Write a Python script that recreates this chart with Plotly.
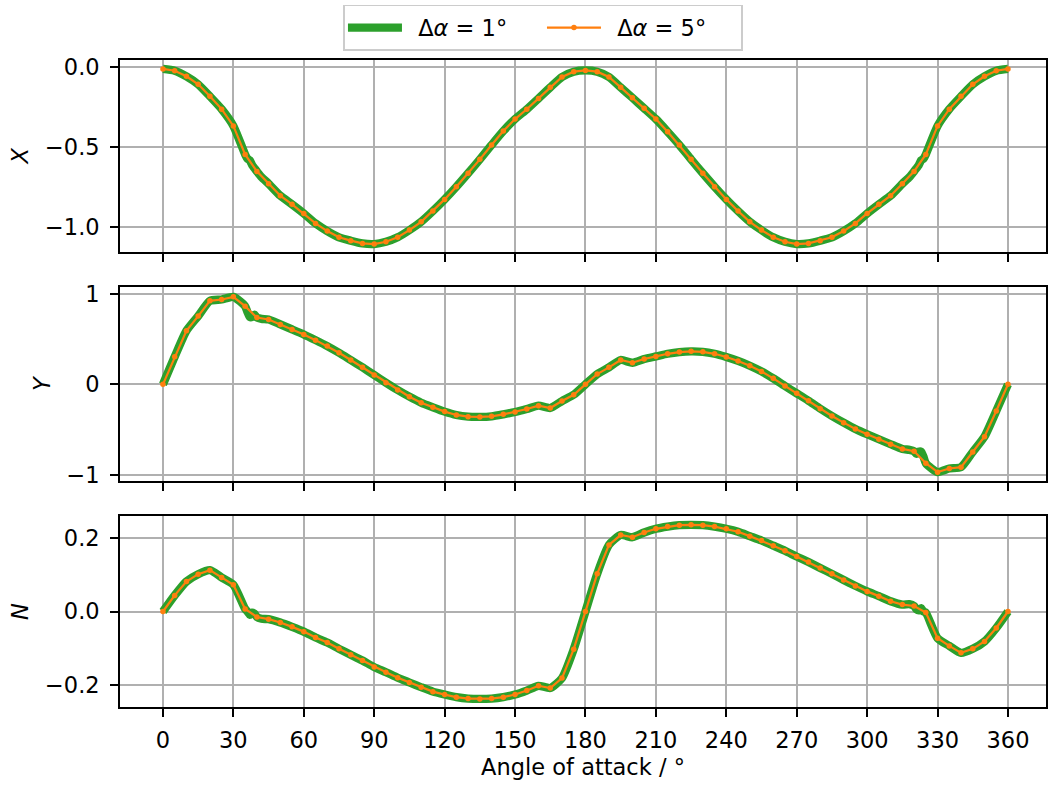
import plotly.graph_objects as go
from plotly.subplots import make_subplots

# Coefficients sampled every 5 degrees of angle of attack
alpha_coarse = list(range(0, 361, 5))

X_coarse = [
    -0.014, -0.025, -0.060, -0.110, -0.185, -0.265, -0.370, -0.548, -0.654, -0.731,
    -0.806, -0.860, -0.917, -0.979, -1.027, -1.066, -1.087, -1.104, -1.108, -1.094,
    -1.066, -1.021, -0.969, -0.902, -0.829, -0.750, -0.666, -0.579, -0.489, -0.402,
    -0.327, -0.266, -0.198, -0.129, -0.064, -0.031, -0.023, -0.031, -0.064, -0.129,
    -0.194, -0.260, -0.327, -0.406, -0.489, -0.579, -0.666, -0.750, -0.829, -0.902,
    -0.969, -1.021, -1.066, -1.094, -1.108, -1.104, -1.087, -1.066, -1.027, -0.979,
    -0.917, -0.860, -0.806, -0.731, -0.654, -0.548, -0.370, -0.265, -0.185, -0.110,
    -0.060, -0.025, -0.014,
]

Y_coarse = [
    0.000, 0.305, 0.593, 0.755, 0.924, 0.939, 0.968, 0.865, 0.740, 0.718,
    0.663, 0.608, 0.552, 0.489, 0.423, 0.349, 0.269, 0.188, 0.103, 0.018,
    -0.063, -0.137, -0.203, -0.254, -0.302, -0.339, -0.358, -0.361, -0.354, -0.332,
    -0.306, -0.273, -0.236, -0.262, -0.185, -0.115, 0.000, 0.114, 0.188, 0.269,
    0.239, 0.280, 0.309, 0.338, 0.357, 0.365, 0.360, 0.338, 0.302, 0.259,
    0.206, 0.143, 0.066, -0.019, -0.100, -0.181, -0.269, -0.350, -0.424, -0.494,
    -0.553, -0.608, -0.663, -0.715, -0.740, -0.873, -0.972, -0.932, -0.917, -0.748,
    -0.579, -0.295, 0.000,
]

N_coarse = [
    0.000, 0.044, 0.082, 0.102, 0.113, 0.093, 0.073, 0.007, -0.015, -0.021,
    -0.030, -0.042, -0.055, -0.071, -0.085, -0.102, -0.118, -0.134, -0.152, -0.166,
    -0.181, -0.194, -0.207, -0.219, -0.227, -0.234, -0.238, -0.239, -0.238, -0.234,
    -0.227, -0.216, -0.203, -0.209, -0.182, -0.103, 0.000, 0.103, 0.182, 0.209,
    0.203, 0.216, 0.226, 0.232, 0.236, 0.237, 0.236, 0.232, 0.226, 0.218,
    0.206, 0.194, 0.180, 0.166, 0.150, 0.135, 0.119, 0.103, 0.086, 0.070,
    0.055, 0.042, 0.028, 0.019, 0.015, -0.003, -0.073, -0.094, -0.113, -0.102,
    -0.082, -0.045, 0.000,
]

# Additional 1-degree samples where the fine sweep resolves local wiggles
alpha_fine_extra = [36, 37, 38, 39, 42, 318, 321, 322, 323, 324]
X_fine_extra = [-0.575, -0.585, -0.615, -0.635, -0.690, -0.690, -0.635, -0.615, -0.585, -0.575]
Y_fine_extra = [0.800, 0.745, 0.745, 0.770, 0.725, -0.725, -0.770, -0.745, -0.745, -0.800]
N_fine_extra = [0.000, -0.009, -0.003, -0.006, -0.020, 0.020, 0.006, 0.003, 0.009, 0.000]

x_tick_vals = list(range(0, 361, 30))
y_tick_vals = [[-1.0, -0.5, 0.0], [-1, 0, 1], [-0.2, 0.0, 0.2]]
y_ranges = [[-1.156, 0.042], [-1.07, 1.074], [-0.261, 0.261]]
y_titles = ["<i>X</i>", "<i>Y</i>", "<i>N</i>"]
y_formats = [".1f", "d", ".1f"]

label_fine = "\u2002Δ<i>α</i> = 1°"
label_coarse = "\u2002Δ<i>α</i> = 5°"


def merge_samples(base_a, base_v, extra_a, extra_v):
    pairs = sorted(list(zip(base_a, base_v)) + list(zip(extra_a, extra_v)))
    return [p[0] for p in pairs], [p[1] for p in pairs]


fine = [
    merge_samples(alpha_coarse, X_coarse, alpha_fine_extra, X_fine_extra),
    merge_samples(alpha_coarse, Y_coarse, alpha_fine_extra, Y_fine_extra),
    merge_samples(alpha_coarse, N_coarse, alpha_fine_extra, N_fine_extra),
]
coarse = [X_coarse, Y_coarse, N_coarse]

GREEN = "#2ca02c"
ORANGE = "#ff7f0e"
FONT = "DejaVu Sans"
FS = 22.5

fig = make_subplots(rows=3, cols=1, shared_xaxes=True)

for i in range(3):
    a_f, v_f = fine[i]
    fig.add_trace(
        go.Scatter(
            x=a_f, y=v_f, mode="lines", name=label_fine,
            line=dict(color=GREEN, width=8.3, shape="spline", smoothing=0.6),
            showlegend=(i == 0), legendgroup="fine",
        ),
        row=i + 1, col=1,
    )
    fig.add_trace(
        go.Scatter(
            x=alpha_coarse, y=coarse[i], mode="lines+markers", name=label_coarse,
            line=dict(color=ORANGE, width=2.2),
            marker=dict(color=ORANGE, size=5.5),
            showlegend=(i == 0), legendgroup="coarse",
        ),
        row=i + 1, col=1,
    )

axis_style = dict(
    showline=True, mirror=True, linecolor="black", linewidth=1.7,
    ticks="outside", ticklen=8, tickwidth=1.7, tickcolor="black",
    showgrid=True, gridcolor="#b0b0b0", gridwidth=1.7, zeroline=False,
    tickfont=dict(family=FONT, size=FS, color="black"),
)

domains = [[0.7037, 1.0], [0.3493, 0.6487], [0.0, 0.2952]]

for i in range(3):
    xa = "xaxis" if i == 0 else f"xaxis{i + 1}"
    ya = "yaxis" if i == 0 else f"yaxis{i + 1}"
    fig.layout[xa].update(
        range=[-18.3, 376.2], tickvals=x_tick_vals,
        showticklabels=(i == 2), ticklabelstandoff=4, **axis_style,
    )
    fig.layout[ya].update(
        range=y_ranges[i], tickvals=y_tick_vals[i], tickformat=y_formats[i],
        domain=domains[i], ticklabelstandoff=6,
        title=dict(text=y_titles[i], standoff=10,
                   font=dict(family=FONT, size=FS, color="black")),
        **axis_style,
    )

fig.layout.xaxis3.title = dict(
    text="Angle of attack / °", standoff=7,
    font=dict(family=FONT, size=FS, color="black"),
)

fig.update_layout(
    width=1049, height=787,
    margin=dict(l=120, r=1, t=60, b=80),
    paper_bgcolor="white", plot_bgcolor="white",
    font=dict(family=FONT, size=FS, color="black"),
    legend=dict(
        orientation="h", xref="container", yref="container",
        x=0.5176, xanchor="center", y=0.994, yanchor="top",
        bordercolor="#cccccc", borderwidth=1.7, bgcolor="white",
        font=dict(family=FONT, size=FS, color="black"),
        itemwidth=54, entrywidth=130,
    ),
)

fig.write_html("out.html")
